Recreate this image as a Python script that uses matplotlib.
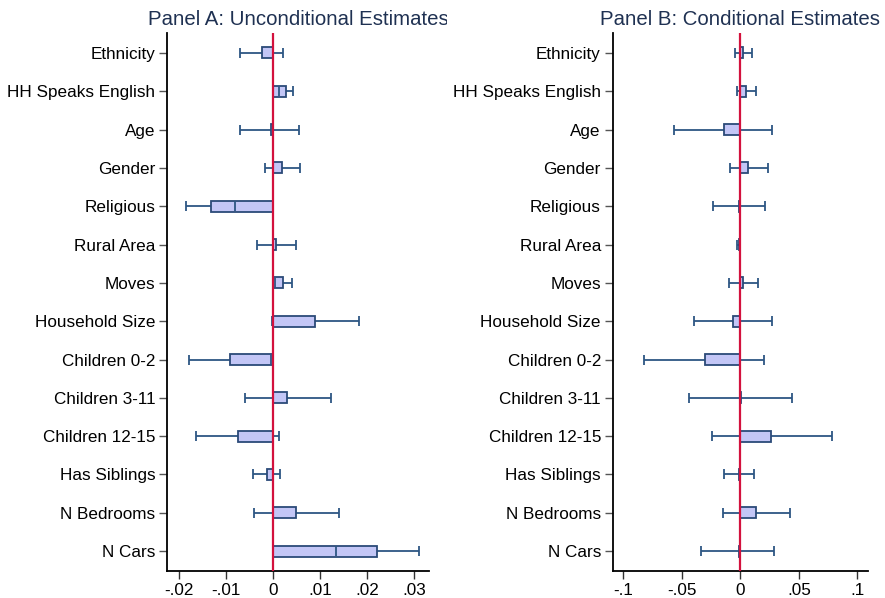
import numpy as np
import matplotlib
matplotlib.use('Agg')
import matplotlib.pyplot as plt
from matplotlib.transforms import Bbox, TransformedBbox

plt.rcParams['font.family'] = ['Liberation Sans', 'DejaVu Sans']

# 变量名称(从上到下)
labels = ['Ethnicity', 'HH Speaks English', 'Age', 'Gender', 'Religious', 'Rural Area',
          'Moves', 'Household Size', 'Children 0-2', 'Children 3-11', 'Children 12-15',
          'Has Siblings', 'N Bedrooms', 'N Cars']

# Panel A: 无条件估计 (系数, 下限, 上限)
est_a = [-0.0024, 0.0027, -0.0004, 0.0019, -0.0132, 0.0006, 0.0022, 0.0089,
         -0.0091, 0.0030, -0.0075, -0.0013, 0.0049, 0.0220]
lo_a = [-0.0070, 0.0012, -0.0070, -0.0017, -0.0185, -0.0035, 0.0005, -0.0003,
        -0.0178, -0.0059, -0.0164, -0.0042, -0.0040, 0.0133]
hi_a = [0.0022, 0.0043, 0.0055, 0.0057, -0.0081, 0.0049, 0.0040, 0.0183,
        -0.0004, 0.0123, 0.0013, 0.0014, 0.0141, 0.0309]

# Panel B: 条件估计
est_b = [0.0020, 0.0046, -0.0142, 0.0066, -0.0013, -0.0015, 0.0026, -0.0060,
         -0.0305, 0.0002, 0.0266, -0.0010, 0.0134, -0.0014]
lo_b = [-0.0043, -0.0031, -0.0565, -0.0091, -0.0234, -0.0025, -0.0094, -0.0393,
        -0.0824, -0.0442, -0.0240, -0.0139, -0.0148, -0.0339]
hi_b = [0.0097, 0.0131, 0.0268, 0.0234, 0.0208, -0.0005, 0.0151, 0.0268,
        0.0203, 0.0442, 0.0782, 0.0117, 0.0428, 0.0286]

ticks_a = [-0.02, -0.01, 0, 0.01, 0.02, 0.03]
ticklab_a = ['-.02', '-.01', '0', '.01', '.02', '.03']
ticks_b = [-0.1, -0.05, 0, 0.05, 0.1]
ticklab_b = ['-.1', '-.05', '0', '.05', '.1']

fill_c = '#c3c6f6'
edge_c = '#2b4a78'
line_c = '#2d5683'
zero_c = '#d3113d'
title_c = '#1f3152'

fig = plt.figure(figsize=(8.85, 5.98), dpi=100)
ax_a = fig.add_axes([0.189, 0.0457, 0.2957, 0.8991])
ax_b = fig.add_axes([0.6923, 0.0457, 0.2882, 0.8991])


def draw_panel(ax, est, lo, hi, ticks, ticklab, xlim, title, clip_right):
    y = np.arange(1, len(labels) + 1)
    est = np.array(est)
    lo = np.array(lo)
    hi = np.array(hi)
    ax.barh(y, est, height=0.29, left=0, color=fill_c, edgecolor=edge_c,
            linewidth=1.3, zorder=2)
    eb = ax.errorbar(est, y, xerr=[est - lo, hi - est], fmt='none', ecolor=line_c,
                     elinewidth=1.3, capsize=3.3, capthick=1.3, zorder=1)
    for c in eb[1]:
        c.set_zorder(3)
    ax.axvline(0, color=zero_c, linewidth=1.6, zorder=4)
    ax.set_xlim(*xlim)
    ax.set_ylim(14.51, 0.48)
    ax.set_yticks(y)
    ax.set_yticklabels(labels, fontsize=12.3)
    ax.set_xticks(ticks)
    ax.set_xticklabels(ticklab, fontsize=12.3)
    for s in ['top', 'right']:
        ax.spines[s].set_visible(False)
    ax.spines['left'].set_linewidth(1.3)
    ax.spines['bottom'].set_linewidth(1.3)
    ax.tick_params(axis='y', length=6, width=1, color='#555555', pad=2.5)
    ax.tick_params(axis='x', length=6, width=1, color='#333333', pad=3)
    t = ax.set_title(title, fontsize=14.7, color=title_c, pad=6)
    bb = TransformedBbox(Bbox([[0, 0.9], [clip_right, 1.0]]), fig.transFigure)
    t.set_clip_box(bb)
    t.set_clip_on(True)


draw_panel(ax_a, est_a, lo_a, hi_a, ticks_a, ticklab_a, (-0.02244, 0.0331),
           'Panel A: Unconditional Estimates', 0.505)
draw_panel(ax_b, est_b, lo_b, hi_b, ticks_b, ticklab_b, (-0.1092, 0.109),
           'Panel B: Conditional Estimates', 1.0)

fig.savefig('out.png', dpi=100)
